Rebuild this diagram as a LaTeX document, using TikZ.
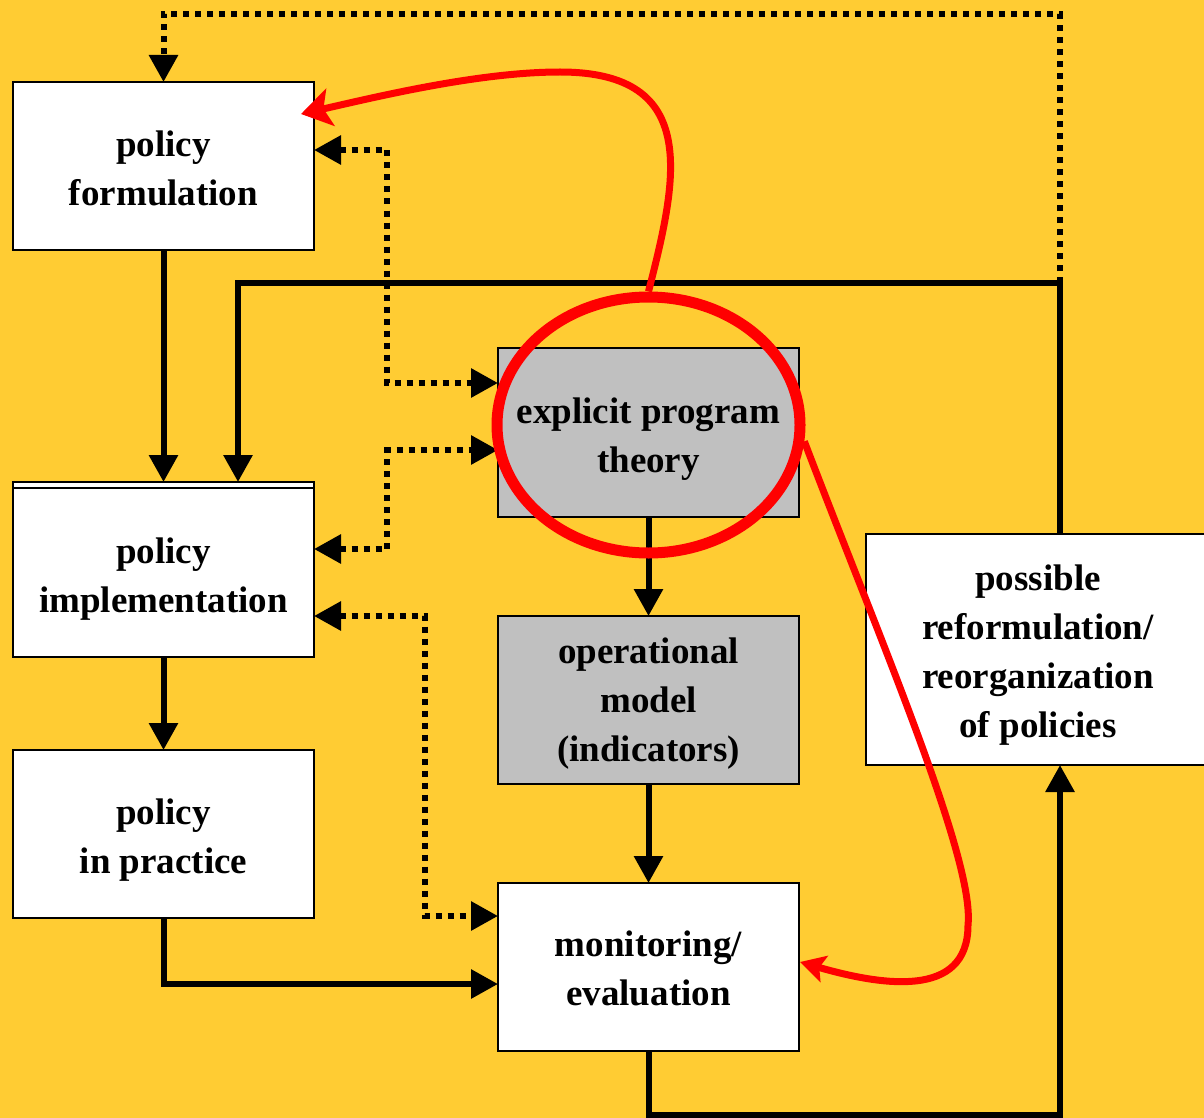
\documentclass[tikz,border=0pt]{standalone}
\usepackage{fontspec}
\setmainfont{Liberation Serif}
\usepackage{tikz}
\usetikzlibrary{shapes.geometric, arrows.meta}
\usetikzlibrary{positioning}
\definecolor{bgorange}{HTML}{FFCC33}
\definecolor{boxgray}{HTML}{C0C0C0}
\tikzstyle{box} = [rectangle, minimum width=301pt, minimum height=168pt, inner sep=0pt,
outer sep=0pt, text centered, align=center, draw=black, line width=2pt, fill=white,
font=\fontsize{37pt}{49pt}\selectfont\bfseries]
\tikzstyle{graybox} = [box, fill=boxgray]
\tikzstyle{arrow} = [line width=6pt, -{Triangle[length=27pt,width=28pt]}]
\tikzstyle{dotarrow} = [line width=6pt, dash pattern=on 6pt off 6pt, -{Triangle[length=27pt,width=28pt]}]
\tikzstyle{dotboth} = [dotarrow, {Triangle[length=27pt,width=28pt]}-{Triangle[length=27pt,width=28pt]}]
\tikzstyle{redarrow} = [draw=red, line width=7pt, -{Stealth[length=30pt,width=38pt,inset=7pt]}]
\tikzstyle{redarrowsmall} = [draw=red, line width=7pt, -{Stealth[length=25pt,width=27pt,inset=5pt]}]

\begin{document}
\begin{tikzpicture} [x=1pt, y=-1pt, node distance=99pt]
    \useasboundingbox (0,0) rectangle (1204,1118);
    \clip (0,0) rectangle (1204,1118);
    \fill[bgorange] (0,0) rectangle (1204,1118);

    \node (form) [box, text height=79pt] at (163.5,166) {policy\\formulation};
    \node (impl) [box, below=232pt of form, minimum height=175pt, text height=93pt] {policy\\implementation};
    \node (prac) [box, below=93pt of impl, text height=87pt] {policy\\in practice};
    \node (theory) [graybox, minimum height=169pt, text height=87pt] at (648.5,432.5) {explicit program\\theory};
    \node (model) [graybox, below=of theory, text height=131pt] {operational\\model\\(indicators)};
    \node (eval) [box, below=of model, text height=78pt] {monitoring/\\evaluation};
    \node (reform) [box, minimum width=344pt, minimum height=231pt, text height=184pt] at (1038,649.5) {possible\\reformulation/\\reorganization\\of policies};
    \draw[line width=1.5pt] ([yshift=-6pt]impl.north west) -- ([yshift=-6pt]impl.north east);

    \coordinate (junc) at (1060,283);
    \coordinate (topright) at (1060,14);

    \draw[arrow] (form) -- (impl);
    \draw[arrow] (impl) -- (prac);
    \draw[arrow] (prac.south) |- ([yshift=-17pt]eval.west);
    \draw[arrow] (theory) -- (model);
    \draw[arrow] (model) -- (eval);
    \draw[arrow] (eval.south) -- ++(0,64) -| ([xshift=22pt]reform.south);
    \draw[arrow] ([xshift=22pt]reform.north) |- (junc) -| ([xshift=74.5pt]impl.north);
    \draw[dotarrow] (junc) -- (topright) -| (form.north);
    \draw[dotboth] ([yshift=16pt]form.east) -- ++(73,0) |- ([yshift=49.5pt]theory.west);
    \draw[dotboth] ([yshift=20.5pt]impl.east) -- ++(73,0) |- ([yshift=-17.5pt]theory.west);
    \draw[dotboth] ([yshift=-46.5pt]impl.east) -- ++(111,0) |- ([yshift=51pt]eval.west);

    % red ring round the program theory
    \node (ring) [ellipse, draw=red, line width=11pt, minimum width=303pt, minimum height=256pt,
    inner sep=0pt] at (648.5,425) {};
    \draw[redarrow] (ring.north) .. controls (677,180) and (702,72) .. (560,72)
    .. controls (480,72) and (380,96) .. ([xshift=-13pt,yshift=52pt]form.east);
    \draw[redarrowsmall] (ring.-6) .. controls (880,640) and (975,860) .. (968,925)
    .. controls (968,1000) and (880,985) .. ([xshift=1pt,yshift=5pt]eval.east);

\end{tikzpicture}
\end{document}
